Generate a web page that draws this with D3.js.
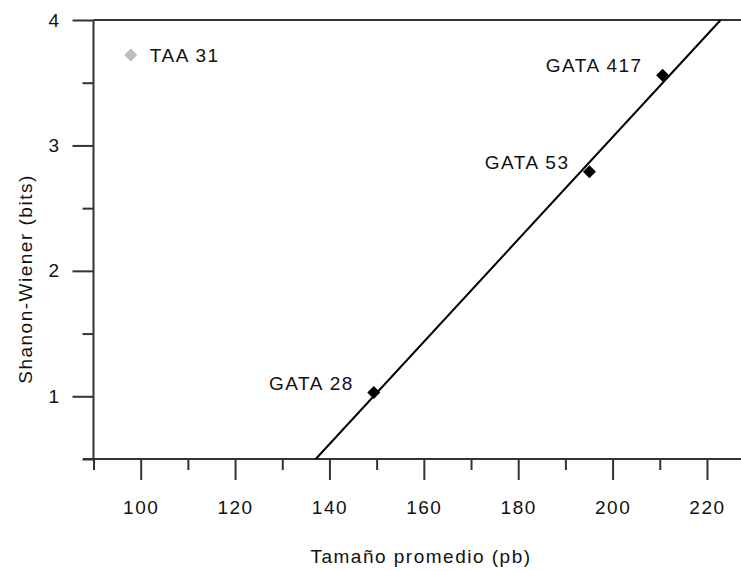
<!DOCTYPE html>
<html>
<head>
<meta charset="utf-8">
<script src="https://cdn.jsdelivr.net/npm/d3@7"></script>
<style>
  html, body { margin: 0; padding: 0; background: #fff; }
  svg { display: block; }
  text { font-family: "Liberation Sans", Arial, sans-serif; font-size: 19px; letter-spacing: 1.5px; fill: #111; }
</style>
</head>
<body>
<svg id="chart" width="741" height="571"></svg>
<script>
// ---- data ----
const loci    = ["TAA 31", "GATA 28", "GATA 53", "GATA 417"];
const sizes   = [97.9, 149.4, 195.1, 210.6];   // Tamaño promedio (pb)
const shannon = [3.72, 1.03, 2.79, 3.56];      // Shanon-Wiener (bits)
const inFit   = [false, true, true, true];     // points used by the regression line
const fitX    = [137.1, 222.9];                // regression line ends (pb)
const fitY    = [0.5, 4.0];                    // regression line ends (bits)
const xMajor  = [100, 120, 140, 160, 180, 200, 220];
const xMinor  = [90, 110, 130, 150, 170, 190, 210];
const yMajor  = [1, 2, 3, 4];
const yMinor  = [0.5, 1.5, 2.5, 3.5];
const xTitle  = "Tamaño promedio (pb)";
const yTitle  = "Shanon-Wiener (bits)";

const svg = d3.select("#chart");
const x = d3.scaleLinear().domain([90, 227]).range([93.5, 740]);
const y = d3.scaleLinear().domain([0.5, 4]).range([459, 20]);
const axisColor = "#333";

// x axis: minor then major
const gx = svg.append("g").attr("transform", `translate(0,${y(0.5)})`);
gx.call(d3.axisBottom(x).tickValues(xMinor).tickSize(11).tickFormat(""));
const gx2 = svg.append("g").attr("transform", `translate(0,${y(0.5)})`)
  .call(d3.axisBottom(x).tickValues(xMajor).tickSize(21).tickPadding(21).tickFormat(d3.format("d")));
[gx, gx2].forEach(g => {
  g.select(".domain").remove();
  g.selectAll("line").attr("stroke", axisColor).attr("stroke-width", 2);
});
gx2.selectAll("text").style("font-size", "19px").style("font-family", null).attr("fill", "#111");

// x axis base line
svg.append("line").attr("x1", 83).attr("x2", 741)
  .attr("y1", y(0.5)).attr("y2", y(0.5)).attr("stroke", axisColor).attr("stroke-width", 2);

// y axis
const gy = svg.append("g").attr("transform", `translate(${x(90)},0)`);
gy.call(d3.axisLeft(y).tickValues(yMinor).tickSize(11).tickFormat(""));
const gy2 = svg.append("g").attr("transform", `translate(${x(90)},0)`)
  .call(d3.axisLeft(y).tickValues(yMajor).tickSize(21).tickPadding(12).tickFormat(d3.format("d")));
[gy, gy2].forEach(g => {
  g.select(".domain").remove();
  g.selectAll("line").attr("stroke", axisColor).attr("stroke-width", 2);
});
gy2.selectAll("text").style("font-size", "19px").style("font-family", null).attr("fill", "#111");

svg.append("line").attr("x1", x(90)).attr("x2", x(90))
  .attr("y1", y(4)).attr("y2", y(0.5)).attr("stroke", axisColor).attr("stroke-width", 2);
// top line at y = 4
svg.append("line").attr("x1", x(90)).attr("x2", 741)
  .attr("y1", y(4)).attr("y2", y(4)).attr("stroke", axisColor).attr("stroke-width", 2);

// regression line
svg.append("line")
  .attr("x1", x(fitX[0])).attr("y1", y(fitY[0]))
  .attr("x2", x(fitX[1])).attr("y2", y(fitY[1]))
  .attr("stroke", "#000").attr("stroke-width", 2);

// points
const pts = loci.map((name, i) => ({ name, sx: sizes[i], sy: shannon[i], fit: inFit[i] }));
const r = 6.5;
const diamond = `M0,${-r}L${r},0L0,${r}L${-r},0Z`;
svg.append("g").selectAll("path").data(pts).join("path")
  .attr("d", diamond)
  .attr("transform", d => `translate(${x(d.sx)},${y(d.sy)})`)
  .attr("fill", d => d.fit ? "#000" : "#bdbdbd");

// point labels
svg.append("g").selectAll("text").data(pts).join("text")
  .attr("x", d => d.fit ? x(d.sx) - 20 : x(d.sx) + 19)
  .attr("y", d => d.fit ? y(d.sy) - 3 : y(d.sy) + 7)
  .attr("text-anchor", d => d.fit ? "end" : "start")
  .text(d => d.name);

// axis titles
svg.append("text").attr("x", 421).attr("y", 563).attr("text-anchor", "middle").text(xTitle);
svg.append("text").attr("transform", "translate(32,279) rotate(-90)")
  .attr("text-anchor", "middle").text(yTitle);
</script>
</body>
</html>
